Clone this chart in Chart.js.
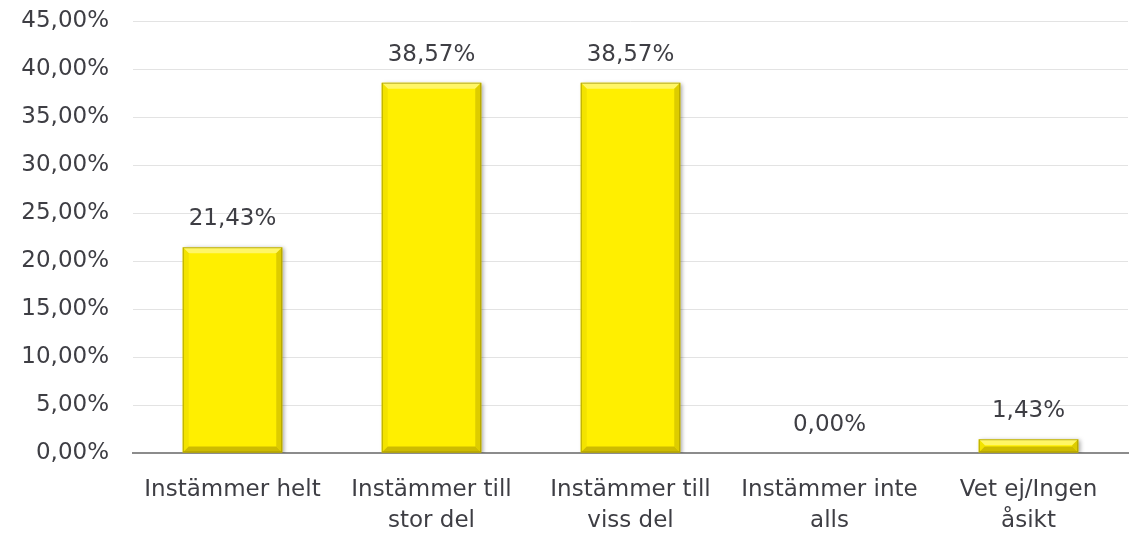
<!DOCTYPE html>
<html>
<head>
<meta charset="utf-8">
<script src="https://cdn.jsdelivr.net/npm/chart.js@4/dist/chart.umd.min.js"></script>
<style>
  html, body { margin: 0; padding: 0; background: #ffffff; }
  #wrap { width: 1132px; height: 533px; position: relative; }
</style>
</head>
<body>
<div id="wrap"><canvas id="c"></canvas></div>
<script>
// Survey answers and their shares (percent)
const categories = [
  'Instämmer helt',
  ['Instämmer till', 'stor del'],
  ['Instämmer till', 'viss del'],
  ['Instämmer inte', 'alls'],
  ['Vet ej/Ingen', 'åsikt']
];
const shares = [21.43, 38.57, 38.57, 0.00, 1.43];
const yMin = 0;
const yMax = 45;
const yStep = 5;

const FONT = '"DejaVu Sans", sans-serif';
const TEXT = '#3E3E44';

function pct(v) {
  return v.toFixed(2).replace('.', ',') + '%';
}

// Soft drop shadow behind the bars
const shadowPlugin = {
  id: 'barShadow',
  beforeDatasetsDraw(chart) {
    const ctx = chart.ctx;
    ctx.save();
    ctx.shadowColor = 'rgba(0,0,0,0.35)';
    ctx.shadowBlur = 4;
    ctx.shadowOffsetX = 2;
    ctx.shadowOffsetY = 1;
  },
  afterDatasetsDraw(chart) {
    chart.ctx.restore();
  }
};

// Bevelled edges and value labels on each bar
const bevelPlugin = {
  id: 'bevel',
  afterDatasetsDraw(chart) {
    const ctx = chart.ctx;
    const meta = chart.getDatasetMeta(0);
    const data = chart.data.datasets[0].data;
    meta.data.forEach((bar, i) => {
      const p = bar.getProps(['x', 'y', 'base', 'width'], true);
      const l = p.x - p.width / 2, r = p.x + p.width / 2;
      const t = Math.min(p.y, p.base), b = Math.max(p.y, p.base);
      const h = b - t;
      if (h > 0.5) {
        const k = Math.min(6, h / 2, p.width / 2);
        const poly = (pts, color) => {
          ctx.beginPath();
          ctx.moveTo(pts[0][0], pts[0][1]);
          for (let j = 1; j < pts.length; j++) ctx.lineTo(pts[j][0], pts[j][1]);
          ctx.closePath();
          ctx.fillStyle = color;
          ctx.fill();
        };
        ctx.save();
        poly([[l, t], [r, t], [r - k, t + k], [l + k, t + k]], '#FFF666');
        poly([[l, t], [l + k, t + k], [l + k, b - k], [l, b]], '#F3E300');
        poly([[r, t], [r, b], [r - k, b - k], [r - k, t + k]], '#DDCC00');
        poly([[l, b], [l + k, b - k], [r - k, b - k], [r, b]], '#CDBB00');
        ctx.strokeStyle = 'rgba(140,128,0,0.6)';
        ctx.lineWidth = 1;
        ctx.strokeRect(l + 0.5, t + 0.5, p.width - 1, h - 1);
        ctx.restore();
      }
      ctx.save();
      ctx.font = '23px ' + FONT;
      ctx.fillStyle = TEXT;
      ctx.textAlign = 'center';
      ctx.textBaseline = 'middle';
      ctx.fillText(pct(data[i]), p.x, p.y - 28);
      ctx.restore();
    });
  }
};

new Chart(document.getElementById('c'), {
  type: 'bar',
  data: {
    labels: categories,
    datasets: [{
      data: shares,
      backgroundColor: '#FFEF00',
      borderWidth: 0,
      barPercentage: 0.5,
      categoryPercentage: 1.0
    }]
  },
  options: {
    responsive: true,
    maintainAspectRatio: false,
    animation: false,
    layout: { padding: { top: 21, right: 4, left: 0, bottom: 0 } },
    plugins: {
      legend: { display: false },
      tooltip: { enabled: false }
    },
    scales: {
      x: {
        grid: { display: false },
        border: { display: true, color: '#8C8C8C', width: 2 },
        ticks: {
          color: TEXT,
          font: { family: FONT, size: 23, lineHeight: 1.33 },
          padding: 14,
          maxRotation: 0,
          autoSkip: false
        },
        afterFit(scale) { scale.height = 80; }
      },
      y: {
        min: yMin,
        max: yMax,
        grid: { color: '#E3E3E3', lineWidth: 1, drawTicks: false },
        border: { display: false },
        ticks: {
          stepSize: yStep,
          color: TEXT,
          font: { family: FONT, size: 23 },
          padding: 24,
          callback: (v) => pct(v)
        },
        afterFit(scale) {
          scale.width = 133;
          scale.paddingTop = 0;
          scale.paddingBottom = 0;
        }
      }
    }
  },
  plugins: [shadowPlugin, bevelPlugin]
});
</script>
</body>
</html>
